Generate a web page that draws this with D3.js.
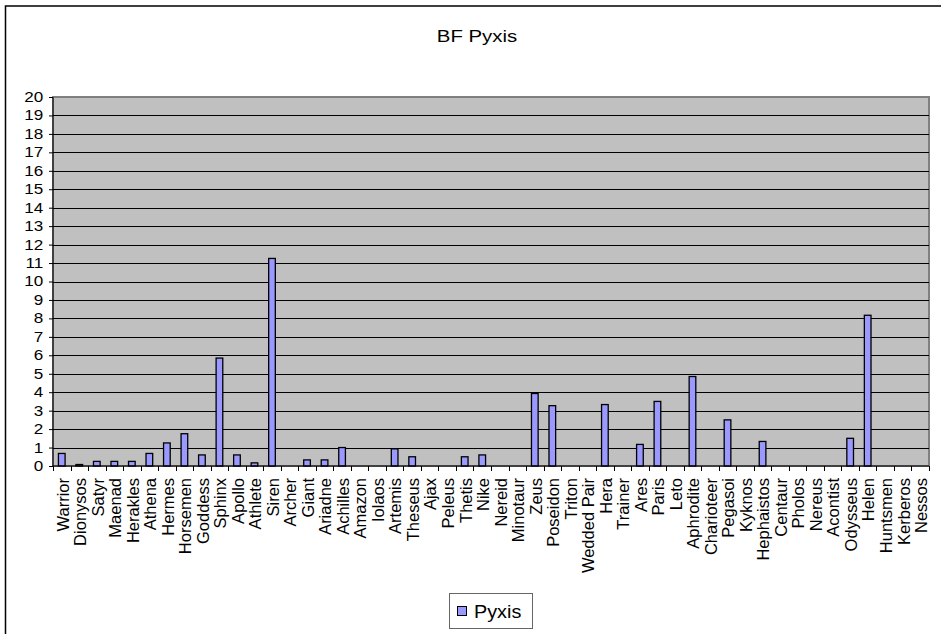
<!DOCTYPE html>
<html>
<head>
<meta charset="utf-8">
<script src="https://cdn.jsdelivr.net/npm/d3@7"></script>
<style>
  body { margin: 0; background: #fff; }
  text { font-family: "Liberation Sans", Arial, sans-serif; fill: #000; }
</style>
</head>
<body>
<div id="chart"></div>
<script>
// Data
var categories = ["Warrior","Dionysos","Satyr","Maenad","Herakles","Athena","Hermes","Horsemen","Goddess","Sphinx",
	"Apollo","Athlete","Siren","Archer","Giant","Ariadne","Achilles","Amazon","Iolaos","Artemis",
	"Theseus","Ajax","Peleus","Thetis","Nike","Nereid","Minotaur","Zeus","Poseidon","Triton",
	"Wedded Pair","Hera","Trainer","Ares","Paris","Leto","Aphrodite","Charioteer","Pegasoi","Kyknos",
	"Hephaistos","Centaur","Pholos","Nereus","Acontist","Odysseus","Helen","Huntsmen","Kerberos","Nessos"];
var pyxis = [0.68,0.08,0.25,0.25,0.25,0.68,1.25,1.75,0.6,5.85,
	0.6,0.17,11.25,0,0.33,0.33,1.0,0,0,0.93,
	0.5,0,0,0.5,0.6,0,0,3.93,3.27,0,
	0,3.33,0,1.17,3.5,0,4.85,0,2.5,0,
	1.33,0,0,0,0,1.5,8.17,0,0,0];
var yTicks = d3.range(0, 21);
var seriesName = "Pyxis";
var title = "BF Pyxis";

var W = 941, H = 634;
var margin = {left: 53, right: 12, top: 97, bottom: 168};

var svg = d3.select("#chart").append("svg")
	.attr("width", W)
	.attr("height", H);

// outer frame (right/bottom edges fall outside the picture)
svg.append("rect")
	.attr("x", 5.5).attr("y", 6)
	.attr("width", W).attr("height", H)
	.attr("fill", "none")
	.attr("stroke", "#000")
	.attr("stroke-width", 1.5);

var x = d3.scaleBand()
	.domain(categories)
	.range([margin.left, W - margin.right]);
var y = d3.scaleLinear()
	.domain([0, 20])
	.range([H - margin.bottom, margin.top]);

// plot area
svg.append("rect")
	.attr("x", margin.left).attr("y", margin.top)
	.attr("width", W - margin.right - margin.left)
	.attr("height", y(0) - margin.top)
	.attr("fill", "#c0c0c0")
	.attr("stroke", "#808080")
	.attr("stroke-width", 2);

// gridlines
svg.append("g")
	.selectAll("line")
	.data(yTicks.filter(function(d){ return d > 0 && d < 20; }))
	.enter()
	.append("line")
	.attr("x1", margin.left).attr("x2", W - margin.right)
	.attr("y1", function(d){ return Math.round(y(d)) + 0.5; })
	.attr("y2", function(d){ return Math.round(y(d)) + 0.5; })
	.attr("stroke", "#000")
	.attr("stroke-width", 1);

// bars
var bw = x.bandwidth() * 0.38;
svg.append("g")
	.selectAll("rect")
	.data(categories.map(function(c, i){ return {key: c, value: pyxis[i]}; }))
	.enter()
	.append("rect")
	.attr("x", function(d){ return x(d.key) + (x.bandwidth() - bw) / 2; })
	.attr("y", function(d){ return y(d.value); })
	.attr("width", bw)
	.attr("height", function(d){ return y(0) - y(d.value); })
	.attr("fill", "#9999ff")
	.attr("stroke", "#000")
	.attr("stroke-width", 1.3);

// y axis
var yAxis = d3.axisLeft(y)
	.tickValues(yTicks)
	.tickFormat(d3.format("d"))
	.tickSize(4)
	.tickPadding(4);
var gY = svg.append("g")
	.attr("transform", "translate(" + margin.left + ",0)")
	.call(yAxis);
gY.select(".domain").attr("stroke", "#000").attr("d", "M0," + margin.top + "V" + y(0));
gY.selectAll("text")
	.style("font-size", "14px")
	.style("font-family", "Liberation Sans, Arial, sans-serif")
	.attr("transform", "scale(1.22,1)");

// x axis line and ticks between categories
var gX = svg.append("g");
gX.append("line")
	.attr("x1", margin.left).attr("x2", W - margin.right)
	.attr("y1", y(0)).attr("y2", y(0))
	.attr("stroke", "#000");
gX.selectAll(".tk")
	.data(categories.concat(["_end"]))
	.enter()
	.append("line")
	.attr("class", "tk")
	.attr("x1", function(d, i){ return Math.round(margin.left + i * x.step()) + 0.5; })
	.attr("x2", function(d, i){ return Math.round(margin.left + i * x.step()) + 0.5; })
	.attr("y1", y(0)).attr("y2", y(0) + 5)
	.attr("stroke", "#000");
gX.selectAll(".lbl")
	.data(categories)
	.enter()
	.append("text")
	.attr("class", "lbl")
	.attr("transform", function(d){ return "translate(" + (x(d) + x.bandwidth() / 2 + 1) + "," + (y(0) + 12) + ") rotate(-90)"; })
	.attr("text-anchor", "end")
	.attr("dy", "0.35em")
	.style("font-size", "16.5px")
	.text(function(d){ return d; });

// title
svg.append("text")
	.attr("transform", "translate(477,42) scale(1.2,1)")
	.attr("text-anchor", "middle")
	.style("font-size", "17px")
	.text(title);

// legend
var lg = svg.append("g");
lg.append("rect")
	.attr("x", 449.5).attr("y", 593.5)
	.attr("width", 83).attr("height", 35)
	.attr("fill", "#fff")
	.attr("stroke", "#666")
	.attr("stroke-width", 1);
lg.append("rect")
	.attr("x", 457.5).attr("y", 606.5)
	.attr("width", 9).attr("height", 9)
	.attr("fill", "#9999ff")
	.attr("stroke", "#000");
lg.append("text")
	.attr("transform", "translate(474,618) scale(1.1,1)")
	.style("font-size", "18px")
	.text(seriesName);
</script>
</body>
</html>
